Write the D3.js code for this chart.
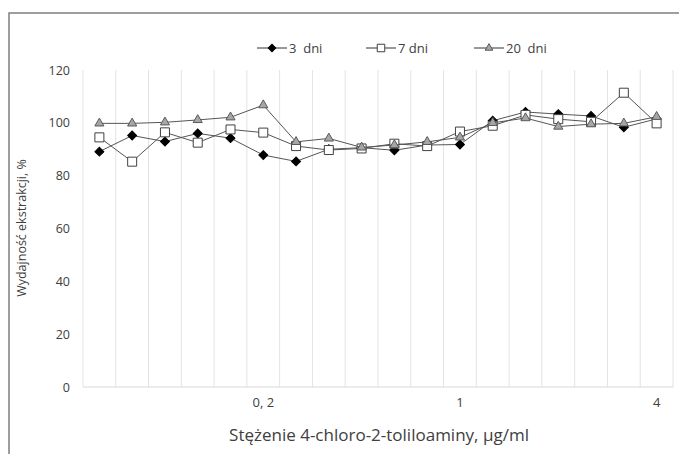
<!DOCTYPE html>
<html><head><meta charset="utf-8">
<script src="https://cdn.jsdelivr.net/npm/d3@7"></script>
<style>
html,body{margin:0;padding:0;background:#fff;}
svg{display:block;}
text{font-family:"Open Sans","Noto Sans",sans-serif;}
</style></head>
<body><svg id="c" width="679" height="454"></svg>
<script>
// Data
const categories = ["0,02","0,04","0,06","0,08","0,1","0,2","0,3","0,4","0,5","0,6","0,8","1","1,5","2","2,5","3","3,5","4"];
const tickLabels = ["","","","","","0, 2","","","","","","1","","","","","","4"];
const seriesNames = ["3  dni","7 dni","20  dni"];
const dni3  = [89.1,95.2,92.9,96.0,94.2,87.8,85.4,90.0,90.6,89.6,91.6,91.8,100.8,104.1,103.3,102.6,98.3,101.5];
const dni7  = [94.5,85.3,96.4,92.5,97.5,96.3,91.2,89.7,90.3,92.1,91.2,96.7,98.9,103.0,101.4,100.4,111.4,99.8];
const dni20 = [99.8,99.8,100.2,101.1,102.1,106.7,92.8,94.1,90.7,91.6,92.8,94.5,100.0,101.8,98.6,99.5,99.8,102.3];
const yTicks = [0,20,40,60,80,100,120];

const svg = d3.select("#c");
const L = 83, R = 673, T = 70, B = 387;

// frame
svg.append("path").attr("d","M9,454 L9,13 L679,13").attr("fill","none")
  .attr("stroke","#7f7f7f").attr("stroke-width",1.5);

const x = d3.scaleBand().domain(categories).range([L,R]).padding(0);
const y = d3.scaleLinear().domain([0,120]).range([B,T]);

// vertical grid lines at band boundaries
const bounds = categories.map(c => x(c)).concat([R]);
svg.append("g").selectAll("line").data(bounds).join("line")
  .attr("x1",d=>d).attr("x2",d=>d).attr("y1",y(120)).attr("y2",y(0))
  .attr("stroke","#e3e3e3").attr("stroke-width",1);
// baseline
svg.append("line").attr("x1",L).attr("x2",R).attr("y1",y(0)).attr("y2",y(0))
  .attr("stroke","#d9d9d9").attr("stroke-width",1);

// y axis labels
const ya = svg.append("g").attr("transform",`translate(${L-13},0)`)
  .call(d3.axisLeft(y).tickValues(yTicks).tickSize(0).tickPadding(0));
ya.select(".domain").remove();
ya.selectAll("text").attr("fill","#404040").style("font-size","12.5px")
  .style("font-family","'Open Sans','Noto Sans',sans-serif");

// x axis labels
const xa = svg.append("g").attr("transform",`translate(0,${B+11})`)
  .call(d3.axisBottom(x).tickFormat((d,i)=>tickLabels[i]).tickSize(0).tickPadding(0));
xa.select(".domain").remove();
xa.selectAll("text").attr("fill","#404040").style("font-size","13px").style("white-space","pre")
  .style("font-family","'Open Sans','Noto Sans',sans-serif");

// axis titles
svg.append("text").attr("x",(L+R)/2 + 1).attr("y",441).attr("text-anchor","middle")
  .attr("fill","#404040").style("font-size","17px").text("Stężenie 4-chloro-2-toliloaminy, μg/ml");
svg.append("text").attr("transform",`translate(26,228) rotate(-90)`).attr("text-anchor","middle")
  .attr("fill","#404040").style("font-size","12.5px").text("Wydajność ekstrakcji, %");

const cx = i => x(categories[i]) + x.bandwidth()/2;
const line = d3.line().x((d,i)=>cx(i)).y(d=>y(d));

const styles = [
  {data:dni3, sym:d3.symbolSquare, size:40, rot:45, fill:"#000", stroke:"#000"},
  {data:dni7, sym:d3.symbolSquare, size:81, rot:0, fill:"#fff", stroke:"#404040"},
  {data:dni20, sym:d3.symbolTriangle, size:36, rot:0, fill:"#a6a6a6", stroke:"#595959"}
];

styles.forEach(s=>{
  svg.append("path").datum(s.data).attr("d",line).attr("fill","none")
    .attr("stroke","#555").attr("stroke-width",1);
  svg.append("g").selectAll("path").data(s.data).join("path")
    .attr("d",d3.symbol(s.sym,s.size))
    .attr("transform",(d,i)=>`translate(${cx(i)},${y(d)}) rotate(${s.rot})`)
    .attr("fill",s.fill).attr("stroke",s.stroke).attr("stroke-width",1);
});

// legend
const legX = [257,366,474];
const lg = svg.append("g");
styles.forEach((s,i)=>{
  const g = lg.append("g").attr("transform",`translate(${legX[i]},48)`);
  g.append("line").attr("x1",0).attr("x2",30).attr("y1",0).attr("y2",0)
    .attr("stroke","#333").attr("stroke-width",1);
  g.append("path").attr("d",d3.symbol(s.sym,s.size*0.7)).attr("transform",`translate(15,0) rotate(${s.rot})`)
    .attr("fill",s.fill).attr("stroke",s.stroke).attr("stroke-width",1);
  g.append("text").attr("x",32).attr("y",0).attr("dy","0.35em").attr("fill","#404040")
    .style("font-size","13px").style("white-space","pre").text(seriesNames[i]);
});
</script></body></html>
